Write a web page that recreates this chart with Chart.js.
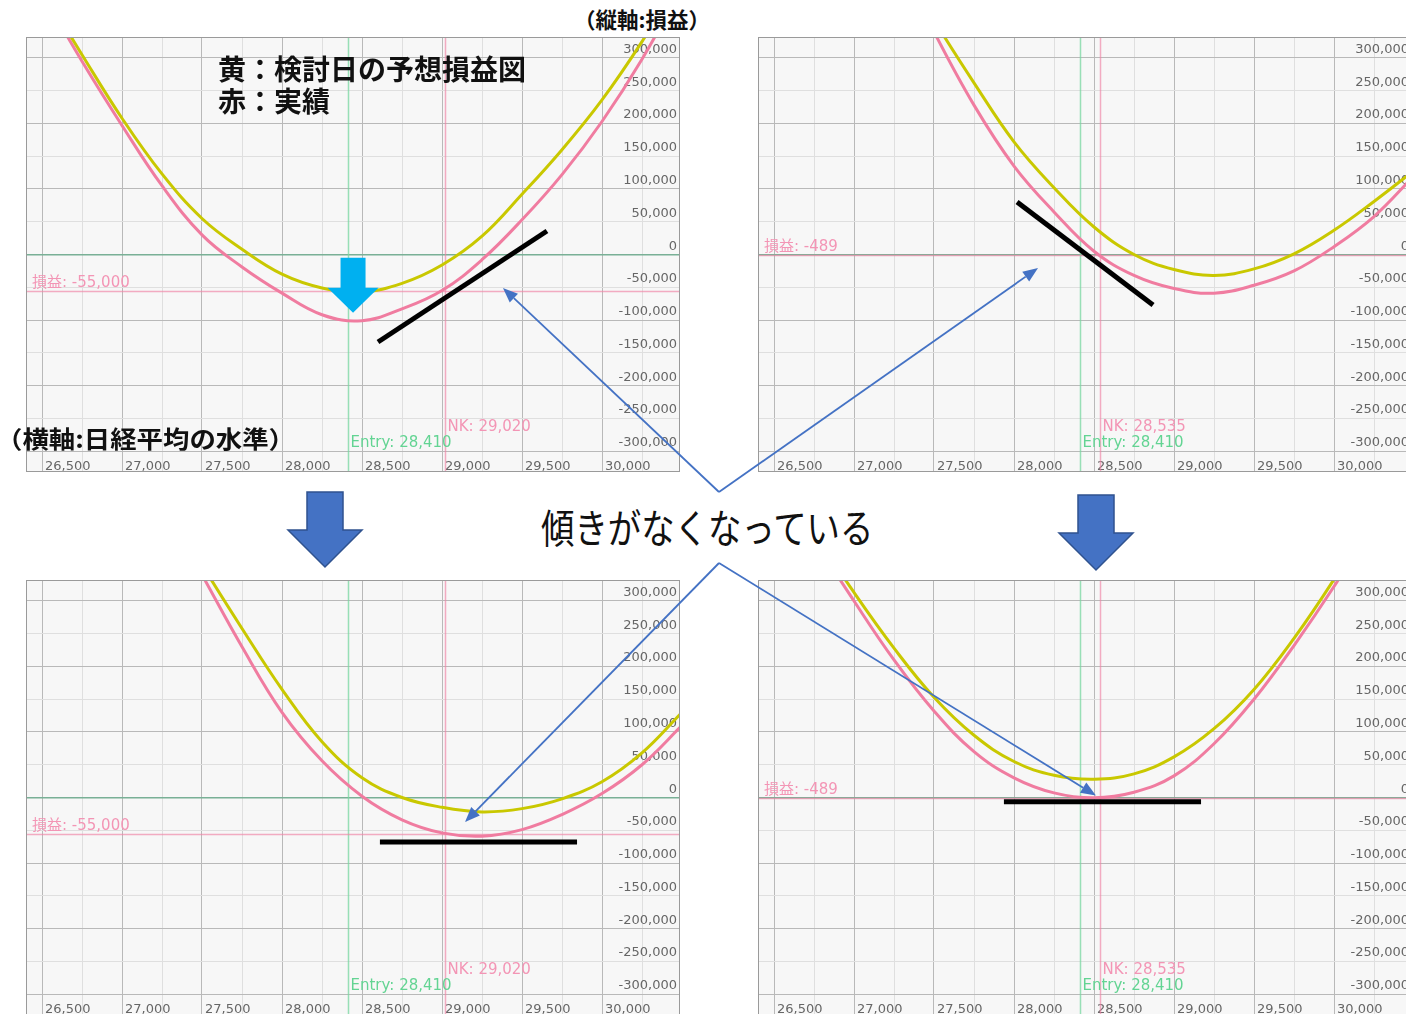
<!DOCTYPE html>
<html lang="ja">
<head>
<meta charset="utf-8">
<title>損益図</title>
<script src="https://cdn.jsdelivr.net/npm/chart.js@4.4.1/dist/chart.umd.min.js"></script>
<style>
  html, body { margin: 0; padding: 0; background: #fff; width: 1406px; height: 1014px; overflow: hidden; }
  body { position: relative; font-family: "Noto Sans CJK JP", sans-serif; }
  .panel { position: absolute; width: 654px; height: 435px; }
  .note { position: absolute; white-space: nowrap; color: #111; transform-origin: left center; }
  #legendNote { left: 218px; top: 52px; font-size: 28px; line-height: 32px; font-weight: 700; }
  #yTitle { left: 574px; top: 5px; font-size: 21.5px; line-height: 28px; font-weight: 700; }
  #xTitle { left: -4px; top: 423px; font-size: 24px; line-height: 30px; font-weight: 700; transform: scaleX(1.1); }
  #slopeNote { left: 541px; top: 501px; font-size: 40px; line-height: 50px; font-weight: 400; transform: scaleX(0.835); }
  #overlay { position: absolute; left: 0; top: 0; width: 1406px; height: 1014px; pointer-events: none; }
</style>
</head>
<body>
<div class="panel" style="left:26px;top:37px"><canvas id="tlChart" width="654" height="435"></canvas></div>
<div class="panel" style="left:758px;top:37px"><canvas id="trChart" width="654" height="435"></canvas></div>
<div class="panel" style="left:26px;top:580px"><canvas id="blChart" width="654" height="435"></canvas></div>
<div class="panel" style="left:758px;top:580px"><canvas id="brChart" width="654" height="435"></canvas></div>

<div class="note" id="legendNote">黄：検討日の予想損益図<br>赤：実績</div>
<div class="note" id="yTitle">（縦軸:損益）</div>
<div class="note" id="xTitle">（横軸:日経平均の水準）</div>
<div class="note" id="slopeNote">傾きがなくなっている</div>
<svg id="overlay" xmlns="http://www.w3.org/2000/svg"></svg>

<script>
// x levels (Nikkei) the curves are read at
const nkLevels = [26500, 26750, 27000, 27250, 27500, 27750, 28000, 28250, 28500, 28750, 29000, 29250, 29500, 29750, 30000, 30250, 30500];
const nkTicks = [26500, 27000, 27500, 28000, 28500, 29000, 29500, 30000];
const nkGrid = [26500, 26750, 27000, 27250, 27500, 27750, 28000, 28250, 28500, 28750, 29000, 29250, 29500, 29750, 30000, 30250];
const plTicks = [300000, 250000, 200000, 150000, 100000, 50000, 0, -50000, -100000, -150000, -200000, -250000, -300000];

// yellow = forecast on review day, pink = actual
const tlForecast = [405000, 305000, 208000, 123000, 55000, 8000, -30000, -51000, -57000, -44000, -16000, 28000, 92000, 160000, 236000, 325000, 425000];
const tlActual = [400000, 295000, 197000, 105000, 30000, -19000, -59000, -92000, -101000, -83000, -55000, -8000, 53000, 122000, 203000, 298000, 408000];
const trForecast = [null, null, null, 462000, 358000, 262000, 172000, 102000, 42000, 0, -23000, -32000, -22000, 1000, 37000, 81000, 128000];
const trActual = [null, null, null, 465000, 340000, 228000, 135000, 65000, 5000, -32000, -52000, -59000, -47000, -25000, 12000, 58000, 120000];
const blForecast = [null, null, null, 455000, 355000, 258000, 165000, 85000, 30000, 0, -15000, -22000, -17000, -2000, 24000, 68000, 130000];
const blActual = [null, null, null, 450000, 340000, 230000, 130000, 56000, 2000, -34000, -54000, -59000, -49000, -26000, 6000, 50000, 110000];
const brForecast = [505000, 405000, 313000, 228000, 153000, 95000, 55000, 34000, 28000, 36000, 62000, 105000, 165000, 243000, 333000, 433000, null];
const brActual = [500000, 395000, 300000, 210000, 132000, 70000, 30000, 7000, -500, 8000, 33000, 82000, 150000, 232000, 322000, 420000, null];

// hand-drawn slope marks
const tlTangent = [{ x: 28600, y: -133600 }, { x: 29656, y: 35900 }];
const trTangent = [{ x: 28019, y: 80000 }, { x: 28869, y: -77000 }];
const blTangent = [{ x: 28612, y: -68000 }, { x: 29844, y: -68000 }];
const brTangent = [{ x: 27937, y: -6600 }, { x: 29169, y: -6600 }];

const entryPrice = 28410;
const topNikkei = 29020, topProfit = -55000;
const sideNikkei = 28535, sideProfit = -489;

const yellow = '#c9c800';
const pink = '#f07ca0';
const bgColor = '#f7f7f7';

const fmt = (v) => v.toLocaleString('en-US');
const toPoints = (vals) => nkLevels.map((x, i) => ({ x, y: vals[i] })).filter((p) => p.y !== null);

const plotBg = {
    id: 'plotBg',
    beforeDraw(chart) {
        const { ctx, chartArea: a } = chart;
        ctx.save();
        ctx.fillStyle = bgColor;
        ctx.fillRect(a.left, a.top, a.right - a.left, a.bottom - a.top);
        ctx.restore();
    },
    afterDraw(chart) {
        const { ctx, chartArea: a } = chart;
        ctx.save();
        ctx.strokeStyle = '#9a9a9a';
        ctx.lineWidth = 1;
        ctx.strokeRect(a.left + 0.5, a.top + 0.5, a.right - a.left - 1, a.bottom - a.top - 1);
        ctx.restore();
    }
};

const axisLabels = {
    id: 'axisLabels',
    beforeDatasetsDraw(chart) {
        const { ctx, chartArea: a, scales: { x, y } } = chart;
        ctx.save();
        ctx.font = '13px "DejaVu Sans"';
        ctx.fillStyle = '#666';
        ctx.textAlign = 'right';
        plTicks.forEach((v) => ctx.fillText(fmt(v), a.right - 3, y.getPixelForValue(v) - 5));
        ctx.textAlign = 'left';
        nkTicks.forEach((v) => ctx.fillText(fmt(v), x.getPixelForValue(v) + 3, a.bottom - 2));
        ctx.restore();
    }
};

const refLines = {
    id: 'refLines',
    beforeDatasetsDraw(chart, args, opts) {
        const { ctx, chartArea: a, scales: { x, y } } = chart;
        const ex = Math.round(x.getPixelForValue(opts.entry)) + 0.5;
        const nx = Math.round(x.getPixelForValue(opts.nk)) + 0.5;
        const py = Math.round(y.getPixelForValue(opts.pl)) + 0.5;
        ctx.save();
        ctx.lineWidth = 1.5;
        ctx.strokeStyle = 'rgba(120, 215, 160, 0.75)';
        ctx.beginPath(); ctx.moveTo(ex, a.top); ctx.lineTo(ex, a.bottom); ctx.stroke();
        ctx.strokeStyle = 'rgba(240, 130, 165, 0.65)';
        ctx.beginPath(); ctx.moveTo(nx, a.top); ctx.lineTo(nx, a.bottom); ctx.stroke();
        ctx.beginPath(); ctx.moveTo(a.left, py); ctx.lineTo(a.right, py); ctx.stroke();
        ctx.font = '15px "DejaVu Sans", "Noto Sans CJK JP"';
        ctx.textAlign = 'left';
        ctx.fillStyle = '#f395b5';
        ctx.fillText('損益: ' + fmt(opts.pl), a.left + 6, py - 5);
        ctx.fillText('NK: ' + fmt(opts.nk), nx + 2, a.bottom - 41);
        ctx.fillStyle = '#63d493';
        ctx.fillText('Entry: ' + fmt(opts.entry), ex + 2, a.bottom - 25);
        ctx.restore();
    }
};

// cyan drop arrow on the first panel
const dropMarker = {
    id: 'dropMarker',
    afterDatasetsDraw(chart) {
        const { ctx, scales: { x, y } } = chart;
        const cx = x.getPixelForValue(28444);
        const top = y.getPixelForValue(-5000);
        const tip = y.getPixelForValue(-89000);
        const base = tip - 25;
        ctx.save();
        ctx.fillStyle = '#00b0f0';
        ctx.beginPath();
        ctx.moveTo(cx - 12.5, top);
        ctx.lineTo(cx + 12.5, top);
        ctx.lineTo(cx + 12.5, base);
        ctx.lineTo(cx + 25.5, base);
        ctx.lineTo(cx, tip);
        ctx.lineTo(cx - 25.5, base);
        ctx.lineTo(cx - 12.5, base);
        ctx.closePath();
        ctx.fill();
        ctx.restore();
    }
};

function gridColorX(c) {
    return c.tick.value % 500 === 0 ? '#b9b9b9' : '#dfdfdf';
}
function gridColorY(c) {
    if (c.tick.value === 0) return '#79b096';
    return c.tick.value % 100000 === 0 ? '#b9b9b9' : '#dfdfdf';
}

function buildPanel(id, forecast, actual, tangent, ref, extra) {
    return new Chart(document.getElementById(id), {
        type: 'line',
        data: {
            datasets: [
                { data: tangent, borderColor: '#000', borderWidth: 5, tension: 0, pointRadius: 0, order: 0 },
                { data: toPoints(forecast), borderColor: yellow, borderWidth: 3, tension: 0.4, pointRadius: 0, order: 1 },
                { data: toPoints(actual), borderColor: pink, borderWidth: 3, tension: 0.4, pointRadius: 0, order: 2 }
            ]
        },
        options: {
            responsive: false,
            animation: false,
            devicePixelRatio: 1,
            layout: { padding: 0 },
            events: [],
            plugins: { legend: { display: false }, tooltip: { enabled: false }, refLines: ref },
            scales: {
                x: {
                    type: 'linear', min: 26400, max: 30487.5,
                    afterBuildTicks: (axis) => { axis.ticks = nkGrid.map((v) => ({ value: v })); },
                    ticks: { display: false },
                    grid: { color: gridColorX, drawTicks: false, lineWidth: 1 },
                    border: { display: false }
                },
                y: {
                    type: 'linear', min: -332000, max: 332000,
                    afterBuildTicks: (axis) => { axis.ticks = plTicks.map((v) => ({ value: v })); },
                    ticks: { display: false },
                    grid: { color: gridColorY, drawTicks: false, lineWidth: (c) => (c.tick.value === 0 ? 1.5 : 1) },
                    border: { display: false }
                }
            }
        },
        plugins: [plotBg, axisLabels, refLines].concat(extra || [])
    });
}

const charts = {
    tl: buildPanel('tlChart', tlForecast, tlActual, tlTangent, { entry: entryPrice, nk: topNikkei, pl: topProfit }, [dropMarker]),
    tr: buildPanel('trChart', trForecast, trActual, trTangent, { entry: entryPrice, nk: sideNikkei, pl: sideProfit }),
    bl: buildPanel('blChart', blForecast, blActual, blTangent, { entry: entryPrice, nk: topNikkei, pl: topProfit }),
    br: buildPanel('brChart', brForecast, brActual, brTangent, { entry: entryPrice, nk: sideNikkei, pl: sideProfit })
};
const panelPos = { tl: [26, 37], tr: [758, 37], bl: [26, 580], br: [758, 580] };

// callout pointers from the caption into each panel
const pointers = [
    { panel: 'tl', nk: 29381, pl: -51000, from: [719, 492] },
    { panel: 'tr', nk: 28150, pl: -20600, from: [719, 492] },
    { panel: 'bl', nk: 29144, pl: -37400, from: [719, 563] },
    { panel: 'br', nk: 28512, pl: 3000, from: [719, 563] }
];

const svg = document.getElementById('overlay');
const NS = 'http://www.w3.org/2000/svg';
function add(tag, attrs) {
    const el = document.createElementNS(NS, tag);
    Object.keys(attrs).forEach((k) => el.setAttribute(k, attrs[k]));
    svg.appendChild(el);
    return el;
}

pointers.forEach((p) => {
    const c = charts[p.panel];
    const [ox, oy] = panelPos[p.panel];
    const tx = ox + c.scales.x.getPixelForValue(p.nk);
    const ty = oy + c.scales.y.getPixelForValue(p.pl);
    const [fx, fy] = p.from;
    const len = Math.hypot(tx - fx, ty - fy);
    const ux = (tx - fx) / len, uy = (ty - fy) / len;
    const bx = tx - ux * 15, by = ty - uy * 15;
    add('line', { x1: fx, y1: fy, x2: bx, y2: by, stroke: '#4472c4', 'stroke-width': 1.8 });
    add('polygon', {
        points: `${tx},${ty} ${bx - uy * 6},${by + ux * 6} ${bx + uy * 6},${by - ux * 6}`,
        fill: '#4472c4'
    });
});

// big block arrows between the rows
[[325, 492], [1096, 495]].forEach(([cx, top]) => {
    const base = top + 38, tip = top + 75;
    add('polygon', {
        points: `${cx - 18},${top} ${cx + 18},${top} ${cx + 18},${base} ${cx + 37},${base} ${cx},${tip} ${cx - 37},${base} ${cx - 18},${base}`,
        fill: '#4472c4', stroke: '#2f528f', 'stroke-width': 1.5
    });
});
</script>
</body>
</html>
